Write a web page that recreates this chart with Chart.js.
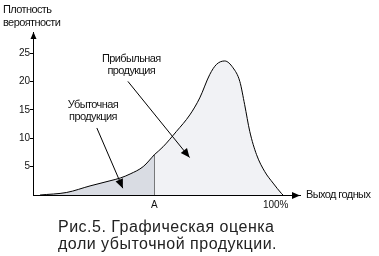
<!DOCTYPE html>
<html>
<head>
<meta charset="utf-8">
<script src="https://cdn.jsdelivr.net/npm/chart.js"></script>
<style>
  html, body { margin: 0; padding: 0; background: #fff; }
  #box { width: 379px; height: 256px; }
</style>
</head>
<body>
<div id="box"><canvas id="grafico"></canvas></div>
<script>
// Kривая плотности: выход годных (%), плотность вероятности
const lossX = [2.9, 13.9, 23.5, 31.7, 36.0, 40.0, 45.4, 50];
const lossY = [0, 0.45, 1.6, 2.5, 3.0, 3.7, 5.0, 7.1];
const profitX = [50, 53.6, 59.1, 64.6, 68.7, 72.8, 75.6, 79.0, 82.4, 85.2, 87.2, 89.3, 92.1, 95.5, 98.9, 102.3, 103.0];
const profitY = [7.1, 8.5, 11.2, 14.1, 17.1, 21.2, 23.0, 23.6, 22.4, 20.0, 15.9, 11.2, 7.1, 4.1, 2.1, 0.3, 0];

// граница A
const pointA = 50;
const yTicks = [5, 10, 15, 20, 25];
const xTicks = [pointA, 100];
const xTickLabels = ["A", "100%"];

// подписи и стрелки (в единицах данных)
const lossLabel = ["Убыточная", "продукция"];
const lossLabelPos = { x: 24.7, y: 15.9 };
const lossArrow = { from: { x: 26.3, y: 11.8 }, to: { x: 37, y: 1.2 } };
const profitLabel = ["Прибыльная", "продукция"];
const profitLabelPos = { x: 40.5, y: 23.9 };
const profitArrow = { from: { x: 39.1, y: 20 }, to: { x: 64.5, y: 6.6 } };

const yTitle = ["Плотность", "вероятности"];
const xTitle = "Выход годных";
const caption = ["Рис.5. Графическая оценка", "доли убыточной продукции."];

const FONT = "'Liberation Sans', Arial, sans-serif";

function toPoints(xs, ys) {
  return xs.map((x, i) => ({ x: x, y: ys[i] }));
}

function drawArrowHead(ctx, x1, y1, x2, y2, len, half) {
  const ang = Math.atan2(y2 - y1, x2 - x1);
  ctx.beginPath();
  ctx.moveTo(x2, y2);
  ctx.lineTo(x2 - len * Math.cos(ang) + half * Math.sin(ang), y2 - len * Math.sin(ang) - half * Math.cos(ang));
  ctx.lineTo(x2 - len * Math.cos(ang) - half * Math.sin(ang), y2 - len * Math.sin(ang) + half * Math.cos(ang));
  ctx.closePath();
  ctx.fill();
}

// подписи, стрелки и оформление осей
const decorPlugin = {
  id: "decor",
  afterDraw(chart) {
    const ctx = chart.ctx;
    const xs = chart.scales.x;
    const ys = chart.scales.y;
    const area = chart.chartArea;
    ctx.save();
    ctx.fillStyle = "#000";
    ctx.strokeStyle = "#000";
    ctx.lineWidth = 1;

    // стрелки осей
    drawArrowHead(ctx, area.left + 0.5, area.bottom, area.left + 0.5, area.top, 7, 3);
    drawArrowHead(ctx, area.left, area.bottom + 0.5, area.right, area.bottom + 0.5, 8, 3.5);

    // стрелки-указатели
    [lossArrow, profitArrow].forEach(a => {
      const x1 = xs.getPixelForValue(a.from.x), y1 = ys.getPixelForValue(a.from.y);
      const x2 = xs.getPixelForValue(a.to.x), y2 = ys.getPixelForValue(a.to.y);
      ctx.beginPath();
      ctx.moveTo(x1, y1);
      ctx.lineTo(x2, y2);
      ctx.stroke();
      drawArrowHead(ctx, x1, y1, x2, y2, 9, 4);
    });

    ctx.letterSpacing = "-0.6px";
    ctx.font = "11px " + FONT;
    ctx.textAlign = "center";
    ctx.textBaseline = "middle";
    ctx.fillStyle = "#111";
    lossLabel.forEach((t, i) => {
      ctx.fillText(t, xs.getPixelForValue(lossLabelPos.x), ys.getPixelForValue(lossLabelPos.y) + i * 12);
    });
    profitLabel.forEach((t, i) => {
      ctx.fillText(t, xs.getPixelForValue(profitLabelPos.x), ys.getPixelForValue(profitLabelPos.y) + i * 12);
    });

    // названия осей
    ctx.textAlign = "left";
    ctx.fillText(yTitle[0], 3, 10);
    ctx.fillText(yTitle[1], 3, 23);
    ctx.fillText(xTitle, area.right + 6, area.bottom);

    // подпись рисунка
    ctx.letterSpacing = "0.5px";
    ctx.font = "16px " + FONT;
    ctx.textBaseline = "alphabetic";
    ctx.fillStyle = "#222";
    ctx.fillText(caption[0], 58, 232);
    ctx.fillText(caption[1], 58, 249);
    ctx.restore();
  }
};

new Chart(document.getElementById("grafico"), {
  type: "line",
  data: {
    datasets: [
      {
        label: "loss",
        data: toPoints(lossX, lossY),
        borderColor: "#000",
        borderWidth: 1,
        backgroundColor: "#d9dce3",
        fill: "origin",
        pointRadius: 0,
        cubicInterpolationMode: "monotone"
      },
      {
        label: "profit",
        data: toPoints(profitX, profitY),
        borderColor: "#000",
        borderWidth: 1,
        backgroundColor: "#f1f2f5",
        fill: "origin",
        pointRadius: 0,
        cubicInterpolationMode: "monotone"
      },
      {
        label: "A",
        data: [{ x: pointA, y: 0 }, { x: pointA, y: lossY[lossY.length - 1] }],
        borderColor: "#000",
        borderWidth: 1.2,
        fill: false,
        pointRadius: 0,
        tension: 0
      }
    ]
  },
  options: {
    responsive: true,
    maintainAspectRatio: false,
    animation: false,
    events: [],
    layout: { padding: { top: 32, right: 79, left: 0, bottom: 0 } },
    plugins: { legend: { display: false }, tooltip: { enabled: false } },
    scales: {
      x: {
        type: "linear",
        min: 0,
        max: 110,
        afterBuildTicks: s => { s.ticks = xTicks.map(v => ({ value: v })); },
        afterFit: s => { s.height = 61; },
        grid: { display: false, drawTicks: false },
        border: { display: true, color: "#000", width: 1 },
        ticks: {
          padding: 4,
          maxRotation: 0,
          autoSkip: false,
          color: "#111",
          font: { size: 10, family: FONT },
          callback: v => xTickLabels[xTicks.indexOf(v)]
        }
      },
      y: {
        min: 0,
        max: 28.7,
        afterBuildTicks: s => { s.ticks = yTicks.map(v => ({ value: v })); },
        afterFit: s => { s.width = 33; },
        grid: { drawOnChartArea: false, drawTicks: true, tickLength: 3, color: "#000" },
        border: { display: true, color: "#000", width: 1 },
        ticks: {
          padding: 0,
          color: "#111",
          font: { size: 10, family: FONT }
        }
      }
    }
  },
  plugins: [decorPlugin]
});
</script>
</body>
</html>
